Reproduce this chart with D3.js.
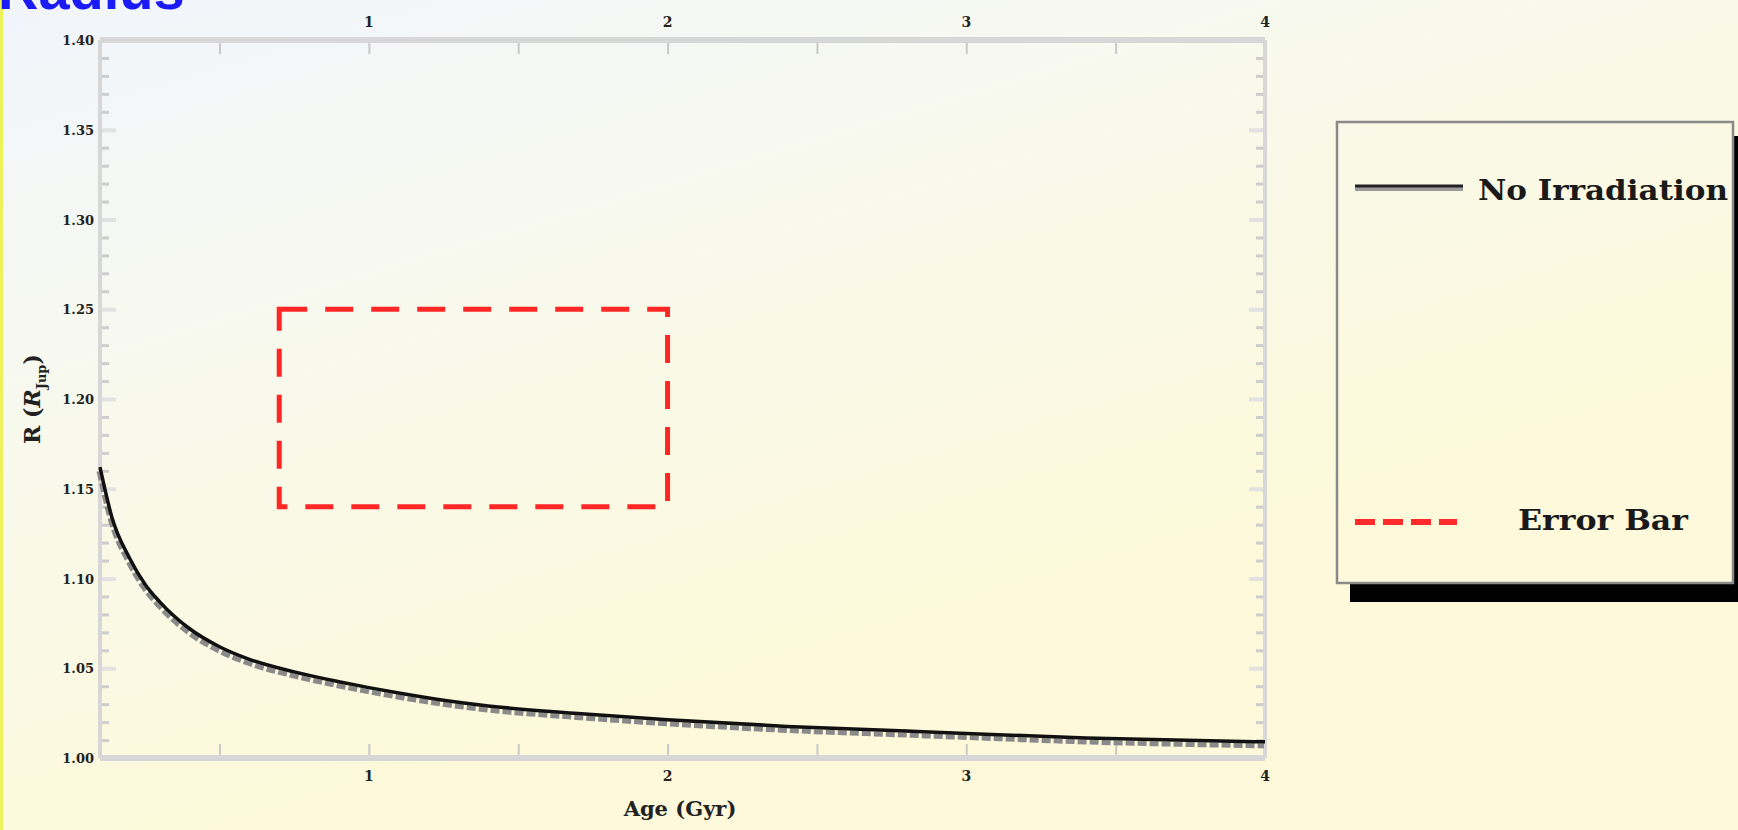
<!DOCTYPE html>
<html>
<head>
<meta charset="utf-8">
<script src="https://cdn.jsdelivr.net/npm/d3@7"></script>
<style>
  html, body { margin: 0; padding: 0; overflow: hidden; }
  svg { display: block; }
  .tick-label { font-family: "DejaVu Serif", serif; font-weight: bold; fill: #222; }
</style>
</head>
<body>
<svg id="chart" width="1738" height="830"></svg>
<script>
// radius evolution (Gyr, R_Jup)
const ages   = [0.1, 0.14, 0.2, 0.25, 0.3, 0.4, 0.5, 0.6, 0.75, 0.9, 1.0, 1.1, 1.25, 1.4, 1.7, 2.0, 2.4, 2.8, 3.0, 3.4, 4.0];
const radius = [1.162, 1.134, 1.111, 1.097, 1.087, 1.072, 1.062, 1.055, 1.048, 1.0425, 1.0392, 1.0362, 1.0322, 1.029, 1.0248, 1.0213, 1.0176, 1.015, 1.0137, 1.0112, 1.009];

// error box
const errorAge = [0.7, 2.0];
const errorRadius = [1.14, 1.25];

// ticks
const ageTicks = [1, 2, 3, 4];
const ageMinor = [0.5, 1, 1.5, 2, 2.5, 3, 3.5];
const radiusTicks = [1.00, 1.05, 1.10, 1.15, 1.20, 1.25, 1.30, 1.35, 1.40];
const radiusMinor = d3.range(1, 40).map(i => 1 + i / 100).filter(v => Math.round(v * 100) % 5 !== 0);

const legendNames = ["No Irradiation", "Error Bar"];

const svg = d3.select("#chart");
const W = 1738, H = 830;
const mLeft = 100, mRight = 1265, mTop = 40, mBottom = 758;

// background gradient
const defs = svg.append("defs");
const bg = defs.append("linearGradient")
    .attr("id", "bg").attr("gradientUnits", "userSpaceOnUse")
    .attr("x1", 0).attr("y1", 0).attr("x2", 250).attr("y2", 830);
bg.append("stop").attr("offset", 0).attr("stop-color", "#f1f5fc");
bg.append("stop").attr("offset", 0.45).attr("stop-color", "#f8f9ee");
bg.append("stop").attr("offset", 1).attr("stop-color", "#fdf9da");

svg.append("rect").attr("width", W).attr("height", H).attr("fill", "url(#bg)");
svg.append("rect").attr("x", 0).attr("y", 0).attr("width", 3).attr("height", H).attr("fill", "#eef25a");

// title, cut off at the top edge as in the original
svg.append("text")
    .attr("x", -2).attr("y", 9)
    .style("font-family", "Liberation Sans, Arial, sans-serif")
    .style("font-weight", "bold").style("font-size", "56px")
    .attr("fill", "#1b1bf5")
    .text("Radius");

const x = d3.scaleLinear().domain([0.1, 4]).range([mLeft, mRight]);
const y = d3.scaleLinear().domain([1.0, 1.4]).range([mBottom, mTop]);

// frame
const frame = svg.append("g").attr("stroke", "#d7d7d7").attr("fill", "none");
frame.append("line").attr("x1", mLeft).attr("x2", mRight).attr("y1", mTop).attr("y2", mTop).attr("stroke-width", 6);
frame.append("line").attr("x1", mLeft).attr("x2", mRight).attr("y1", mBottom).attr("y2", mBottom).attr("stroke-width", 6);
frame.append("line").attr("x1", mLeft).attr("x2", mLeft).attr("y1", mTop).attr("y2", mBottom).attr("stroke-width", 4);
frame.append("line").attr("x1", mRight).attr("x2", mRight).attr("y1", mTop).attr("y2", mBottom).attr("stroke-width", 4);

function styleTicks(g, color, width) {
  g.select(".domain").remove();
  g.selectAll(".tick line").attr("stroke", color).attr("stroke-width", width);
  g.selectAll(".tick text").remove();
}

// inward tick marks
svg.append("g").attr("transform", `translate(0,${mBottom - 3})`)
    .call(d3.axisBottom(x).tickValues(ageMinor).tickSize(-11))
    .call(g => styleTicks(g, "#c9c9c9", 2));
svg.append("g").attr("transform", `translate(0,${mTop + 3})`)
    .call(d3.axisTop(x).tickValues(ageMinor).tickSize(-11))
    .call(g => styleTicks(g, "#c9c9c9", 2));
svg.append("g").attr("transform", `translate(${mLeft + 2},0)`)
    .call(d3.axisLeft(y).tickValues(radiusMinor).tickSize(-7))
    .call(g => styleTicks(g, "#cdcdcd", 3));
svg.append("g").attr("transform", `translate(${mLeft + 2},0)`)
    .call(d3.axisLeft(y).tickValues(radiusTicks.slice(1, -1)).tickSize(-14))
    .call(g => styleTicks(g, "#e2e2e2", 4));
svg.append("g").attr("transform", `translate(${mRight - 2},0)`)
    .call(d3.axisRight(y).tickValues(radiusMinor).tickSize(-7))
    .call(g => styleTicks(g, "#cdcdcd", 3));
svg.append("g").attr("transform", `translate(${mRight - 2},0)`)
    .call(d3.axisRight(y).tickValues(radiusTicks.slice(1, -1)).tickSize(-14))
    .call(g => styleTicks(g, "#e2e2e2", 4));

// tick labels
svg.append("g").selectAll("text").data(radiusTicks).join("text")
    .attr("class", "tick-label")
    .attr("x", 94).attr("y", d => y(d) + 5)
    .attr("text-anchor", "end").style("font-size", "13px")
    .text(d => d3.format(".2f")(d));
svg.append("g").selectAll("text").data(ageTicks).join("text")
    .attr("class", "tick-label")
    .attr("x", d => x(d)).attr("y", 781)
    .attr("text-anchor", "middle").style("font-size", "14px")
    .text(d => d);
svg.append("g").selectAll("text").data(ageTicks).join("text")
    .attr("class", "tick-label")
    .attr("x", d => x(d)).attr("y", 27)
    .attr("text-anchor", "middle").style("font-size", "14px")
    .text(d => d);

// axis titles
svg.append("text")
    .attr("x", 680).attr("y", 816).attr("text-anchor", "middle")
    .style("font-family", "DejaVu Serif, serif").style("font-weight", "bold").style("font-size", "21px")
    .attr("fill", "#222")
    .text("Age (Gyr)");
const yl = svg.append("text")
    .attr("transform", "translate(40,399) rotate(-90)").attr("text-anchor", "middle")
    .style("font-family", "DejaVu Serif, serif").style("font-weight", "bold").style("font-size", "22px")
    .attr("fill", "#222");
yl.append("tspan").text("R (");
yl.append("tspan").style("font-style", "italic").text("R");
yl.append("tspan").attr("dy", 6).style("font-size", "13px").text("Jup");
yl.append("tspan").attr("dy", -6).text(")");

// error box
svg.append("rect")
    .attr("x", x(errorAge[0])).attr("y", y(errorRadius[1]))
    .attr("width", x(errorAge[1]) - x(errorAge[0]))
    .attr("height", y(errorRadius[0]) - y(errorRadius[1]))
    .attr("fill", "none").attr("stroke", "#ff2626").attr("stroke-width", 5)
    .attr("stroke-dasharray", "28,18");

// radius curve with grey ribbon underneath
const pts = ages.map((a, i) => [a, radius[i]]);
const line = d3.line().x(d => x(d[0])).y(d => y(d[1])).curve(d3.curveMonotoneX);
svg.append("path").datum(pts).attr("d", line)
    .attr("transform", "translate(-1,4)")
    .attr("fill", "none").attr("stroke", "#8a8a8a").attr("stroke-width", 5)
    .attr("stroke-dasharray", "9,3");
svg.append("path").datum(pts).attr("d", line)
    .attr("fill", "none").attr("stroke", "#111").attr("stroke-width", 3.5);

// legend
const lg = svg.append("g");
lg.append("rect").attr("x", 1350).attr("y", 136).attr("width", 420).attr("height", 466).attr("fill", "#000");
lg.append("rect").attr("x", 1337).attr("y", 122).attr("width", 396).attr("height", 461)
    .attr("fill", "url(#bg)").attr("stroke", "#8a8a8a").attr("stroke-width", 2.5);
lg.append("line").attr("x1", 1355).attr("x2", 1463).attr("y1", 189).attr("y2", 189)
    .attr("stroke", "#9a9a9a").attr("stroke-width", 4);
lg.append("line").attr("x1", 1355).attr("x2", 1463).attr("y1", 186).attr("y2", 186)
    .attr("stroke", "#222").attr("stroke-width", 3);
lg.append("line").attr("x1", 1355).attr("x2", 1457).attr("y1", 522).attr("y2", 522)
    .attr("stroke", "#ff2a2a").attr("stroke-width", 6).attr("stroke-dasharray", "20,8");
lg.append("text").attr("x", 1478).attr("y", 200)
    .attr("textLength", 250).attr("lengthAdjust", "spacingAndGlyphs")
    .style("font-family", "DejaVu Serif, serif").style("font-weight", "bold").style("font-size", "28px")
    .attr("fill", "#1a1a1a").text(legendNames[0]);
lg.append("text").attr("x", 1518).attr("y", 530)
    .attr("textLength", 170).attr("lengthAdjust", "spacingAndGlyphs")
    .style("font-family", "DejaVu Serif, serif").style("font-weight", "bold").style("font-size", "28px")
    .attr("fill", "#1a1a1a").text(legendNames[1]);
</script>
</body>
</html>
